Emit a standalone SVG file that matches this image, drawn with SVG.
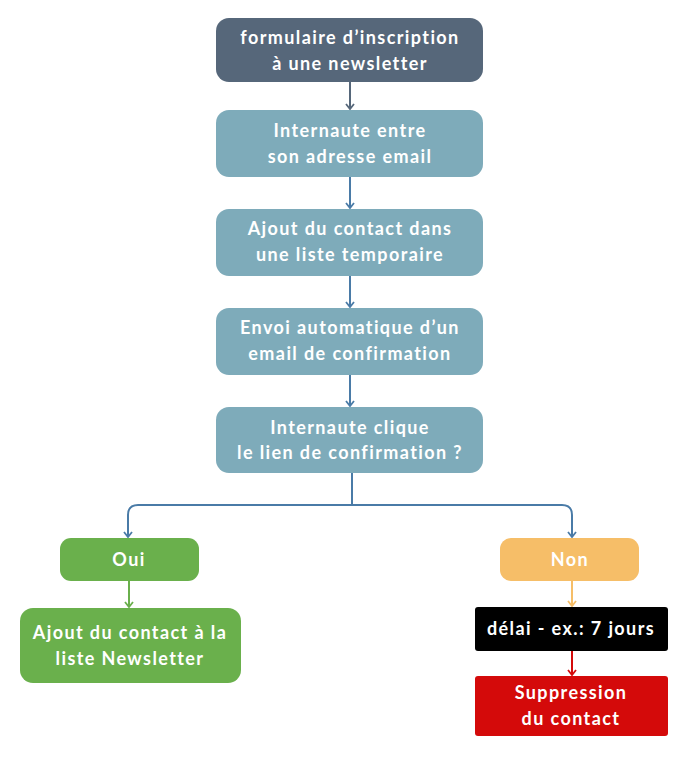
<svg xmlns="http://www.w3.org/2000/svg" width="690" height="768" viewBox="0 0 690 768">
<style>
text{font-family:"Lato","Open Sans","Liberation Sans",sans-serif;font-weight:700;font-size:18px;fill:#fff;text-anchor:middle;letter-spacing:1.4px}
.blue{fill:#7eabba}
.ln{fill:none;stroke-width:2}
</style>
<defs>
<marker id="ab" markerWidth="10" markerHeight="10" refX="7" refY="5" orient="auto" markerUnits="userSpaceOnUse" viewBox="0 0 10 10"><path d="M2,1 L7,5 L2,9" fill="none" stroke="#4a7ba7" stroke-width="1.8"/></marker>
<marker id="ad" markerWidth="10" markerHeight="10" refX="7" refY="5" orient="auto" markerUnits="userSpaceOnUse" viewBox="0 0 10 10"><path d="M2,1 L7,5 L2,9" fill="none" stroke="#56677a" stroke-width="1.8"/></marker>
<marker id="ag" markerWidth="10" markerHeight="10" refX="7" refY="5" orient="auto" markerUnits="userSpaceOnUse" viewBox="0 0 10 10"><path d="M2,1 L7,5 L2,9" fill="none" stroke="#6ab04c" stroke-width="1.8"/></marker>
<marker id="ao" markerWidth="10" markerHeight="10" refX="7" refY="5" orient="auto" markerUnits="userSpaceOnUse" viewBox="0 0 10 10"><path d="M2,1 L7,5 L2,9" fill="none" stroke="#f6be68" stroke-width="1.8"/></marker>
<marker id="ar" markerWidth="10" markerHeight="10" refX="7" refY="5" orient="auto" markerUnits="userSpaceOnUse" viewBox="0 0 10 10"><path d="M2,1 L7,5 L2,9" fill="none" stroke="#d40a0a" stroke-width="1.8"/></marker>
</defs>
<rect width="690" height="768" fill="#fff"/>
<g id="connectors">
<path class="ln" d="M350,82 V109" stroke="#56677a" marker-end="url(#ad)"/>
<path class="ln" d="M350,177 V208" stroke="#4a7ba7" marker-end="url(#ab)"/>
<path class="ln" d="M350,276 V307" stroke="#4a7ba7" marker-end="url(#ab)"/>
<path class="ln" d="M350,375 V406" stroke="#4a7ba7" marker-end="url(#ab)"/>
<path class="ln" d="M352,473 V505 H138 Q128,505 128,515 V537" stroke="#4a7ba7" marker-end="url(#ab)"/>
<path class="ln" d="M352,505 H562 Q572,505 572,515 V537" stroke="#4a7ba7" marker-end="url(#ab)"/>
<path class="ln" d="M129,581 V607" stroke="#6ab04c" marker-end="url(#ag)"/>
<path class="ln" d="M572,581 V606" stroke="#f6be68" marker-end="url(#ao)"/>
<path class="ln" d="M572,651 V675" stroke="#d40a0a" marker-end="url(#ar)"/>
</g>
<g id="n1"><rect x="216" y="18" width="267" height="64" rx="13" fill="#56677a"/><text x="350" y="44">formulaire d’inscription</text><text x="350" y="70">à une newsletter</text></g>
<g id="n2"><rect class="blue" x="216" y="110" width="267" height="67" rx="13"/><text x="350" y="137">Internaute entre</text><text x="350" y="163">son adresse email</text></g>
<g id="n3"><rect class="blue" x="216" y="209" width="267" height="67" rx="13"/><text x="350" y="235">Ajout du contact dans</text><text x="350" y="261">une liste temporaire</text></g>
<g id="n4"><rect class="blue" x="216" y="308" width="267" height="67" rx="13"/><text x="350" y="334">Envoi automatique d’un</text><text x="350" y="360">email de confirmation</text></g>
<g id="n5"><rect class="blue" x="216" y="407" width="267" height="66" rx="13"/><text x="350" y="434">Internaute clique</text><text x="350" y="459">le lien de confirmation ?</text></g>
<g id="oui"><rect x="60" y="538" width="139" height="43" rx="11" fill="#6ab04c"/><text x="129" y="566">Oui</text></g>
<g id="non"><rect x="500" y="538" width="139" height="43" rx="11" fill="#f6be68"/><text x="570" y="566">Non</text></g>
<g id="ajout"><rect x="20" y="608" width="221" height="75" rx="13" fill="#6ab04c"/><text x="130" y="639">Ajout du contact à la</text><text x="130" y="665">liste Newsletter</text></g>
<g id="delai"><rect x="475" y="607" width="193" height="44" rx="3" fill="#000"/><text x="571" y="635">délai - ex.: 7 jours</text></g>
<g id="suppr"><rect x="475" y="676" width="193" height="60" rx="3" fill="#d40a0a"/><text x="571" y="699">Suppression</text><text x="571" y="725">du contact</text></g>
</svg>
